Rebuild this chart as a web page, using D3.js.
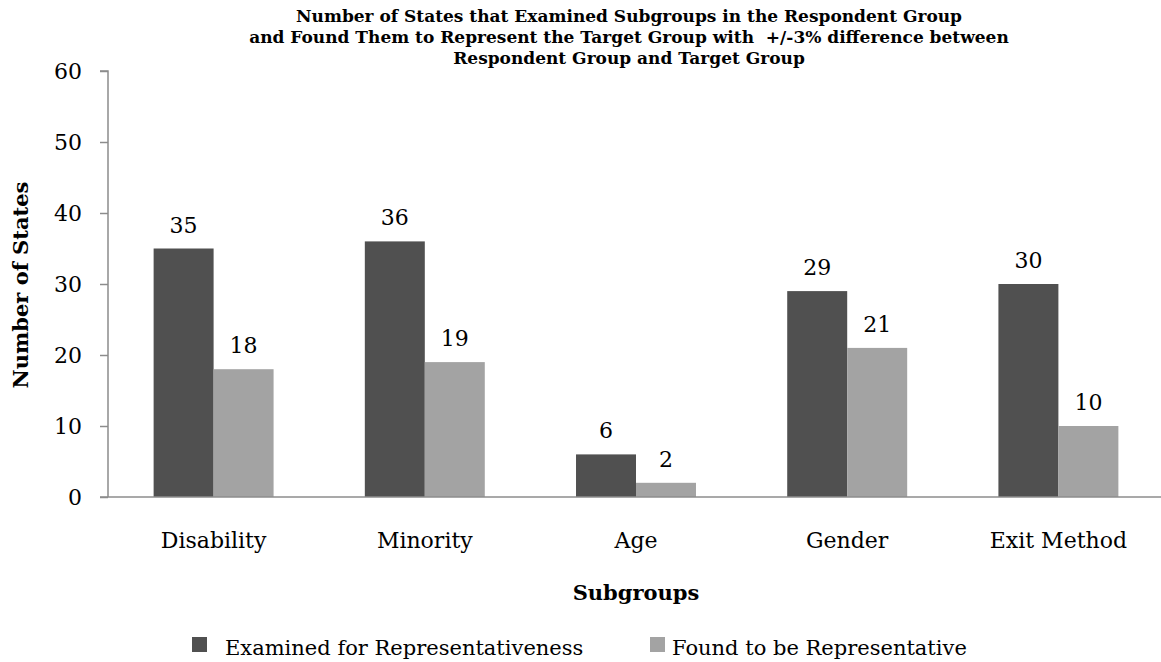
<!DOCTYPE html>
<html>
<head>
<meta charset="utf-8">
<script src="https://cdn.jsdelivr.net/npm/d3@7"></script>
<style>
  body { margin: 0; background: #fff; }
  svg text { font-family: "DejaVu Serif", serif; fill: #000; }
</style>
</head>
<body>
<svg id="chart" width="1161" height="662"></svg>
<script>
// data
let categories = ['Disability', 'Minority', 'Age', 'Gender', 'Exit Method']
let seriesNames = ['Examined for Representativeness', 'Found to be Representative']
let examined = [35, 36, 6, 29, 30]
let found = [18, 19, 2, 21, 10]
let yTicks = [0, 10, 20, 30, 40, 50, 60]
let titleLines = [
  'Number of States that Examined Subgroups in the Respondent Group',
  'and Found Them to Represent the Target Group with  +/-3% difference between',
  'Respondent Group and Target Group'
]

let colors = ['#505050', '#a3a3a3']
let svg = d3.select('#chart')
let plotL = 108, plotR = 1164, plotT = 71, plotB = 497

let x0 = d3.scaleBand()
  .domain(categories)
  .range([plotL, plotR])
  .paddingInner(0.432)
  .paddingOuter(0.216)
let x1 = d3.scaleBand()
  .domain([0, 1])
  .range([0, x0.bandwidth()])
let y = d3.scaleLinear().domain([0, 60]).range([plotB, plotT])

let rows = categories.map((c, i) => ({ cat: c, vals: [examined[i], found[i]] }))

//柱子
let groups = svg.selectAll('g.grp')
  .data(rows)
  .enter()
  .append('g')
  .attr('class', 'grp')
  .attr('transform', d => `translate(${x0(d.cat)},0)`)

groups.selectAll('rect')
  .data(d => d.vals)
  .enter()
  .append('rect')
  .attr('x', (d, i) => x1(i))
  .attr('y', d => y(d))
  .attr('width', x1.bandwidth())
  .attr('height', d => y(0) - y(d))
  .attr('fill', (d, i) => colors[i])

groups.selectAll('text')
  .data(d => d.vals)
  .enter()
  .append('text')
  .text(d => d)
  .attr('x', (d, i) => x1(i) + x1.bandwidth() / 2)
  .attr('y', d => y(d) - 16)
  .attr('text-anchor', 'middle')
  .attr('font-size', '22px')

//坐标轴
let yAxis = d3.axisLeft(y).tickValues(yTicks).tickSize(8).tickPadding(18)
let gy = svg.append('g')
  .attr('transform', `translate(${plotL},0)`)
  .call(yAxis)
gy.select('.domain').attr('stroke', '#8c8c8c').attr('stroke-width', 1.5).attr('d', `M-8,${plotT}H0V${plotB}`)
gy.selectAll('.tick line').attr('stroke', '#8c8c8c').attr('stroke-width', 1.5)
gy.selectAll('.tick text').attr('font-size', '22px').attr('font-family', null)

svg.append('line')
  .attr('x1', plotL - 8).attr('x2', 1161)
  .attr('y1', plotB).attr('y2', plotB)
  .attr('stroke', '#8c8c8c').attr('stroke-width', 1.5)

svg.selectAll('text.cat')
  .data(categories)
  .enter()
  .append('text')
  .attr('class', 'cat')
  .text(d => d)
  .attr('x', d => x0(d) + x0.bandwidth() / 2)
  .attr('y', 548)
  .attr('text-anchor', 'middle')
  .attr('font-size', '22px')

//标题
svg.selectAll('text.title')
  .data(titleLines)
  .enter()
  .append('text')
  .attr('class', 'title')
  .text(d => d)
  .attr('x', 629)
  .attr('y', (d, i) => 22 + i * 21)
  .attr('text-anchor', 'middle')
  .attr('font-size', '17px')
  .attr('font-weight', 'bold')
  .style('white-space', 'pre')

svg.append('text')
  .text('Subgroups')
  .attr('x', 636)
  .attr('y', 600)
  .attr('text-anchor', 'middle')
  .attr('font-size', '21px')
  .attr('font-weight', 'bold')

svg.append('text')
  .text('Number of States')
  .attr('transform', 'translate(28,285) rotate(-90)')
  .attr('text-anchor', 'middle')
  .attr('font-size', '21px')
  .attr('font-weight', 'bold')

//图例
let legendX = [192, 650]
let legend = svg.selectAll('g.leg')
  .data(seriesNames)
  .enter()
  .append('g')
  .attr('class', 'leg')
  .attr('transform', (d, i) => `translate(${legendX[i]},637)`)
legend.append('rect')
  .attr('width', 15).attr('height', 15)
  .attr('fill', (d, i) => colors[i])
legend.append('text')
  .text(d => d)
  .attr('x', (d, i) => i === 0 ? 33 : 22)
  .attr('y', 18)
  .attr('font-size', '21px')
</script>
</body>
</html>
